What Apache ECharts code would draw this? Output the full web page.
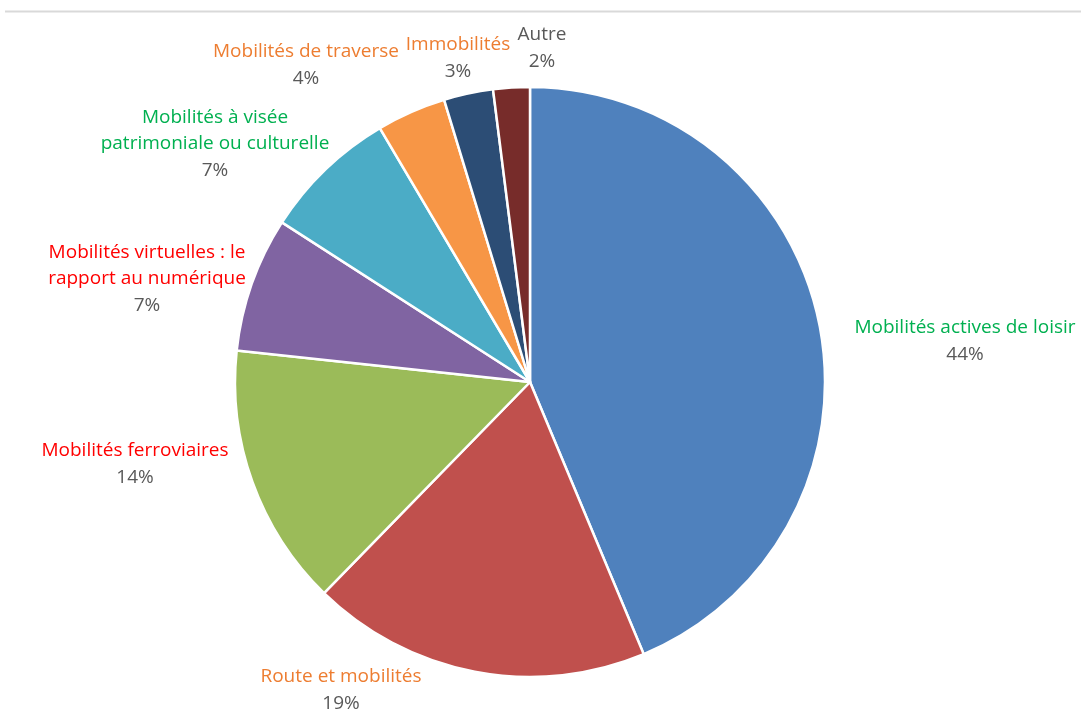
<!DOCTYPE html>
<html>
<head>
<meta charset="utf-8">
<script src="https://cdn.jsdelivr.net/npm/echarts@6/dist/echarts.min.js"></script>
<style>
html,body{margin:0;padding:0;background:#fff;}
#chart{width:1081px;height:711px;}
</style>
</head>
<body>
<div id="chart"></div>
<script>
// ---- data ----
const categories = [
  "Mobilités actives de loisir",
  "Route et mobilités",
  "Mobilités ferroviaires",
  "Mobilités virtuelles : le\nrapport au numérique",
  "Mobilités à visée\npatrimoniale ou culturelle",
  "Mobilités de traverse",
  "Immobilités",
  "Autre"
];
const values = [43.7, 18.6, 14.4, 7.4, 7.4, 3.8, 2.7, 2.0];

// ---- styles ----
const sliceColors = ["#4F81BD", "#C0504D", "#9BBB59", "#8064A2", "#4BACC6", "#F79646", "#2C4D75", "#772C2A"];
const labelColors = ["#00B050", "#ED7D31", "#FF0000", "#FF0000", "#00B050", "#ED7D31", "#ED7D31", "#595959"];
// label block centres (text placement, as in the reference)
const labelCentres = [[965, 341], [341, 690], [135, 464], [147, 279], [215, 144], [306, 65], [458, 58], [542, 48]];

const FONT = "Open Sans";
const FS = 19;
const rich = { p: { color: "#595959", fontSize: FS, lineHeight: 26.5, fontFamily: FONT } };
labelColors.forEach((c, i) => {
  rich["n" + i] = { color: c, fontSize: FS, lineHeight: 26.5, fontFamily: FONT };
});

const chart = echarts.init(document.getElementById("chart"));
chart.setOption({
  animation: false,
  backgroundColor: "#fff",
  graphic: [{
    type: "line",
    shape: { x1: 5, y1: 11.5, x2: 1081, y2: 11.5 },
    style: { stroke: "#D9D9D9", lineWidth: 2 }
  }],
  series: [{
    type: "pie",
    center: [530, 382],
    radius: 295,
    startAngle: 90,
    clockwise: true,
    avoidLabelOverlap: false,
    itemStyle: { borderColor: "#fff", borderWidth: 2.5 },
    label: {
      show: true,
      position: "outside",
      formatter: (p) => p.name.split("\n").map(l => "{n" + p.dataIndex + "|" + l + "}").join("\n") + "\n{p|" + Math.round(p.percent) + "%}",
      rich: rich,
      align: "center"
    },
    labelLine: { show: false },
    labelLayout: (params) => ({
      x: labelCentres[params.dataIndex][0],
      y: labelCentres[params.dataIndex][1],
      align: "center",
      verticalAlign: "middle"
    }),
    data: categories.map((c, i) => ({ name: c, value: values[i], itemStyle: { color: sliceColors[i] } }))
  }]
});
</script>
</body>
</html>
